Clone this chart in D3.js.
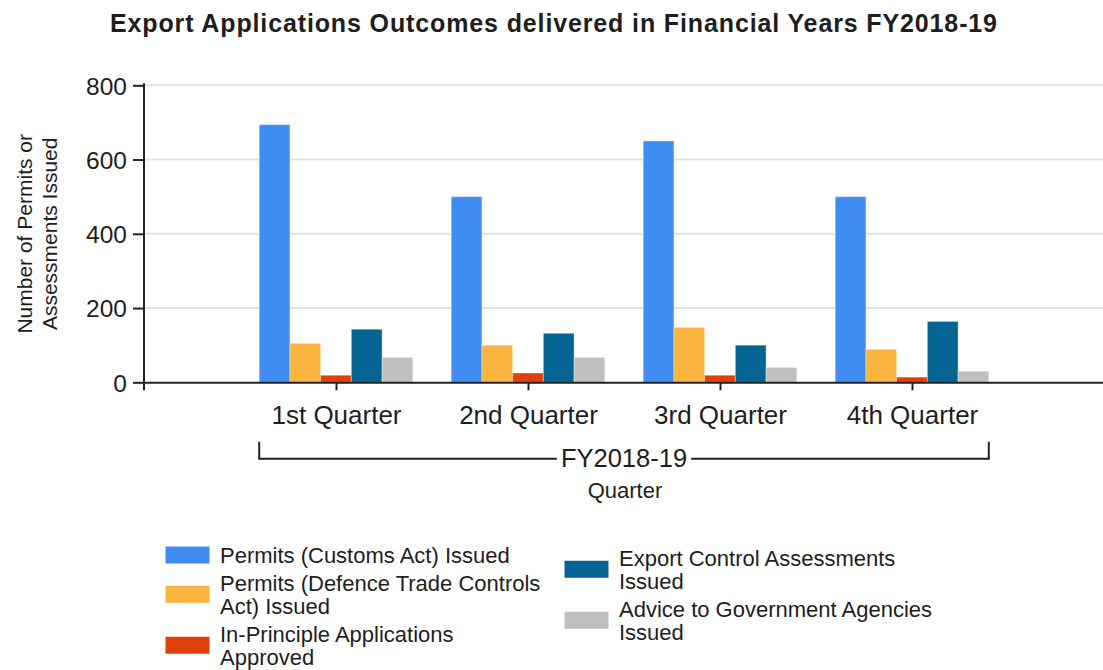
<!DOCTYPE html>
<html>
<head>
<meta charset="utf-8">
<script src="https://cdn.jsdelivr.net/npm/d3@7"></script>
<style>
  html, body { margin: 0; padding: 0; background: #fff; }
  svg { display: block; font-family: "Liberation Sans", Arial, sans-serif; }
</style>
</head>
<body>
<svg id="chart" width="1103" height="670"></svg>
<script>
// ---------------- DATA ----------------
const quarters = ["1st Quarter", "2nd Quarter", "3rd Quarter", "4th Quarter"];
const seriesNames = [
  "Permits (Customs Act) Issued",
  "Permits (Defence Trade Controls Act) Issued",
  "In-Principle Applications Approved",
  "Export Control Assessments Issued",
  "Advice to Government Agencies Issued"
];
const customsPermits   = [694, 500, 650, 500];
const defencePermits   = [105, 100, 148, 89];
const inPrinciple      = [19, 25, 19, 14];
const exportControl    = [143, 132, 100, 164];
const adviceToAgencies = [67, 67, 40, 30];
const yTicks = [0, 200, 400, 600, 800];
const groupLabel = "FY2018-19";
const titleText = "Export Applications Outcomes delivered in Financial Years FY2018-19";
const yTitleLines = ["Number of Permits or", "Assessments Issued"];
const xTitle = "Quarter";
const legendLines = [
  ["Permits (Customs Act) Issued"],
  ["Permits (Defence Trade Controls", "Act) Issued"],
  ["In-Principle Applications", "Approved"],
  ["Export Control Assessments", "Issued"],
  ["Advice to Government Agencies", "Issued"]
];
const colors = ["#418CF0", "#FCB441", "#E0400A", "#056492", "#BFBFBF"];

const seriesValues = [customsPermits, defencePermits, inPrinciple, exportControl, adviceToAgencies];

// ---------------- LAYOUT ----------------
const svg = d3.select("#chart");
const plotLeft = 144, plotRight = 1104, plotTop = 85.3, plotBottom = 382.3;
const textColor = "#1e1e1e";

const y = d3.scaleLinear().domain([0, 800]).range([plotBottom, plotTop]);
const x = d3.scalePoint().domain(quarters).range([plotLeft, plotRight]).padding(1);
const groupWidth = x.step() * 0.8;
const xs = d3.scaleBand().domain(d3.range(seriesNames.length)).range([-groupWidth / 2, groupWidth / 2]).padding(0);

// Title
svg.append("text")
  .attr("x", 110).attr("y", 32)
  .attr("font-size", 25).attr("font-weight", "bold")
  .attr("fill", textColor)
  .attr("textLength", 887).attr("lengthAdjust", "spacing")
  .text(titleText);

// Gridlines
svg.append("g").selectAll("line")
  .data(yTicks.filter(d => d !== 0))
  .join("line")
  .attr("x1", plotLeft).attr("x2", 1103)
  .attr("y1", d => y(d)).attr("y2", d => y(d))
  .attr("stroke", "#e3e3e3").attr("stroke-width", 2);

// Bars
const groups = svg.append("g").selectAll("g")
  .data(quarters)
  .join("g")
  .attr("transform", d => `translate(${x(d)},0)`);

groups.selectAll("rect")
  .data((q, qi) => seriesValues.map((vals, si) => ({ si, v: vals[qi] })))
  .join("rect")
  .attr("x", d => xs(d.si))
  .attr("width", xs.bandwidth())
  .attr("y", d => y(d.v))
  .attr("height", d => y(0) - y(d.v))
  .attr("fill", d => colors[d.si])
  .attr("stroke", "rgba(255,255,255,0.35)")
  .attr("stroke-width", 1);

// Y axis
const yAxis = d3.axisLeft(y).tickValues(yTicks).tickSize(11).tickSizeOuter(0).tickPadding(6);
const gy = svg.append("g").attr("transform", `translate(${plotLeft},0)`).call(yAxis);
gy.select(".domain").remove();
gy.selectAll(".tick line").attr("stroke", "#222").attr("stroke-width", 2);
gy.selectAll(".tick text")
  .attr("font-size", 24.5).attr("fill", textColor)
  .attr("font-family", "'Liberation Sans', Arial, sans-serif")
  .attr("dy", "0.36em");
svg.append("line")
  .attr("x1", plotLeft).attr("x2", plotLeft)
  .attr("y1", plotTop - 2).attr("y2", plotBottom + 8)
  .attr("stroke", "#222").attr("stroke-width", 2);

// X axis
const xAxis = d3.axisBottom(x).tickSize(8).tickSizeOuter(0).tickPadding(15);
const gx = svg.append("g").attr("transform", `translate(0,${plotBottom})`).call(xAxis);
gx.select(".domain").attr("stroke", "#222").attr("stroke-width", 2);
gx.selectAll(".tick line").attr("stroke", "#222").attr("stroke-width", 2);
gx.selectAll(".tick text")
  .attr("font-size", 26).attr("fill", textColor)
  .attr("font-family", "'Liberation Sans', Arial, sans-serif");

// Group bracket
const bx0 = x(quarters[0]) + xs(0);
const bx1 = x(quarters[quarters.length - 1]) + xs(seriesNames.length - 1) + xs.bandwidth();
const bCenter = (bx0 + bx1) / 2;
const bTop = 441.7, bLine = 458.7;
const gLabel = svg.append("text")
  .attr("x", bCenter).attr("y", 467.3)
  .attr("text-anchor", "middle")
  .attr("font-size", 25.5).attr("fill", textColor)
  .text(groupLabel);
const lw = gLabel.node().getComputedTextLength();
const bracket = d3.path();
bracket.moveTo(bx0, bTop); bracket.lineTo(bx0, bLine); bracket.lineTo(bCenter - lw / 2 - 4, bLine);
bracket.moveTo(bCenter + lw / 2 + 4, bLine); bracket.lineTo(bx1, bLine); bracket.lineTo(bx1, bTop);
svg.append("path").attr("d", bracket.toString())
  .attr("fill", "none").attr("stroke", "#222").attr("stroke-width", 2);

// X title
svg.append("text")
  .attr("x", bCenter + 1).attr("y", 498)
  .attr("text-anchor", "middle")
  .attr("font-size", 22).attr("fill", textColor)
  .text(xTitle);

// Y title
const yt = svg.append("text")
  .attr("transform", `translate(0,${(plotTop + plotBottom) / 2}) rotate(-90)`)
  .attr("text-anchor", "middle")
  .attr("font-size", 21).attr("fill", textColor);
yTitleLines.forEach((line, i) => {
  yt.append("tspan").attr("x", 0).attr("y", 31.5 + i * 25).text(line);
});

// Legend
const legendCols = [
  { x: 165.5, items: [0, 1, 2], firstBaseline: 563 },
  { x: 564.5, items: [3, 4], firstBaseline: 565.5 }
];
const lineH = 23.5, itemGap = 27.5;
const lg = svg.append("g");
legendCols.forEach(col => {
  let base = col.firstBaseline;
  col.items.forEach(si => {
    const lines = legendLines[si];
    const meanBase = base + (lines.length - 1) * lineH / 2;
    lg.append("rect")
      .attr("x", col.x).attr("y", meanBase - 8 - 8.5)
      .attr("width", 44).attr("height", 17)
      .attr("fill", colors[si]);
    const t = lg.append("text")
      .attr("font-size", 22).attr("fill", textColor);
    lines.forEach((ln, li) => {
      t.append("tspan").attr("x", col.x + 54.5).attr("y", base + li * lineH).text(ln);
    });
    base = base + (lines.length - 1) * lineH + itemGap;
  });
});
</script>
</body>
</html>
